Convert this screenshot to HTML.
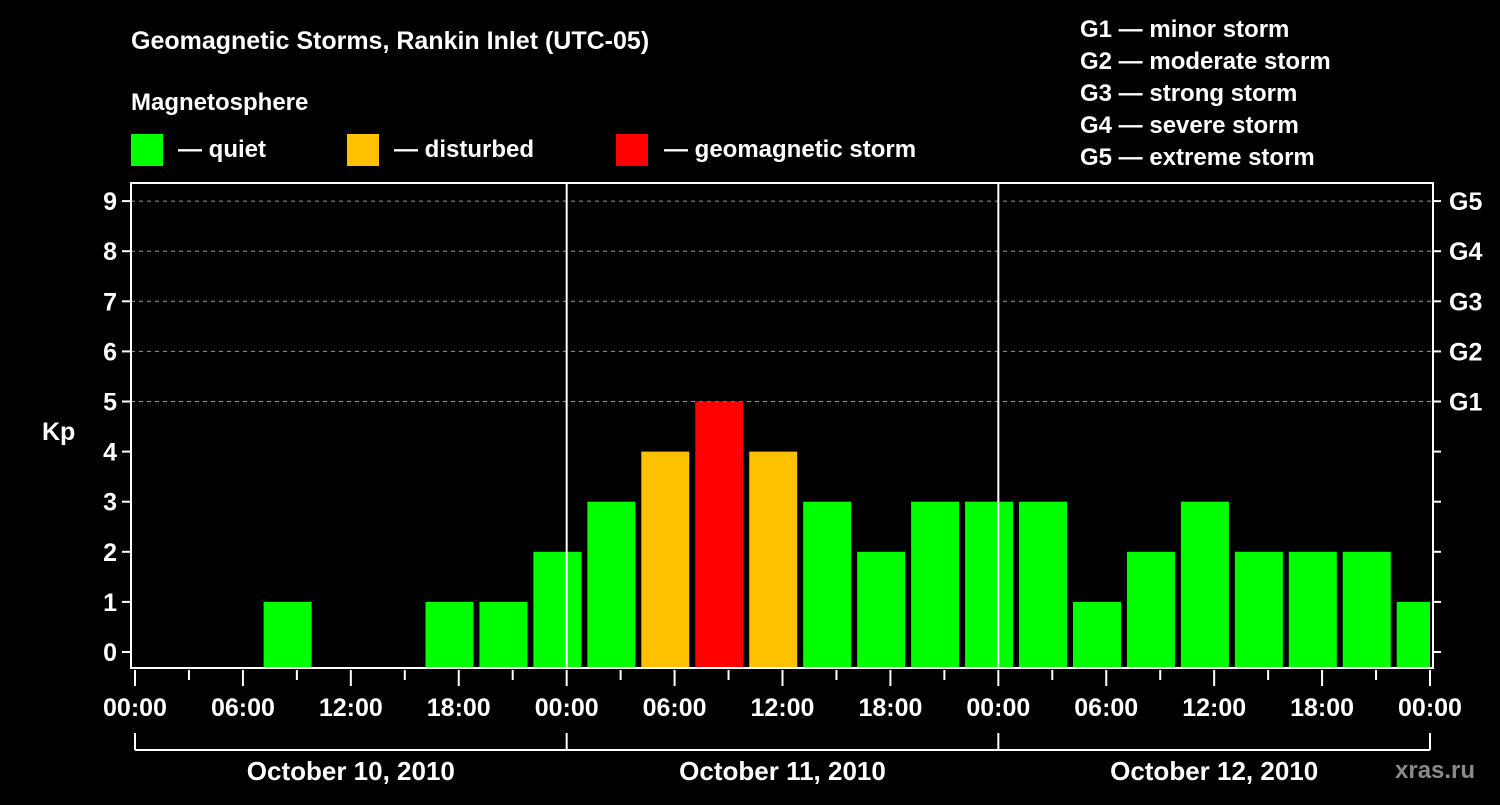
<!DOCTYPE html>
<html><head><meta charset="utf-8"><style>
body{margin:0;background:#000;width:1500px;height:800px;overflow:hidden}
svg text{font-family:"Liberation Sans",sans-serif;font-weight:bold;fill:#fff}
</style></head><body>
<svg id="c" width="1500" height="800">
<text x="131" y="49" font-size="25">Geomagnetic Storms, Rankin Inlet (UTC-05)</text>
<text x="131" y="110" font-size="24">Magnetosphere</text>
<rect x="131" y="134" width="32" height="32" fill="#00ff00"/>
<text x="178" y="157" font-size="24">— quiet</text>
<rect x="347" y="134" width="32" height="32" fill="#ffc000"/>
<text x="394" y="157" font-size="24">— disturbed</text>
<rect x="616" y="134" width="32" height="32" fill="#ff0000"/>
<text x="664" y="157" font-size="24">— geomagnetic storm</text>
<g font-size="24">
<text x="1080" y="37">G1 — minor storm</text>
<text x="1080" y="69">G2 — moderate storm</text>
<text x="1080" y="101">G3 — strong storm</text>
<text x="1080" y="133">G4 — severe storm</text>
<text x="1080" y="165">G5 — extreme storm</text>
</g>
<text x="42" y="440" font-size="25">Kp</text>
<text x="1395" y="778" font-size="24" fill="#888" style="fill:#8a8a8a">xras.ru</text>
<g id="plot"></g>
</svg>
<script>
const kpValues=[0,0,1,0,0,1,1,2,3,4,5,4,3,2,3,3,3,1,2,3,2,2,2,1];
const xTickLabels=["00:00","06:00","12:00","18:00","00:00","06:00","12:00","18:00","00:00","06:00","12:00","18:00","00:00"];
const dateLabels=["October 10, 2010","October 11, 2010","October 12, 2010"];
const gLabels=["G1","G2","G3","G4","G5"];
const NS="http://www.w3.org/2000/svg";
const g=document.getElementById('plot');
const L=131,R=1433,T=183,B=668,X0=135,X1=1430;
const xs=h=>X0+(X1-X0)*h/72;
const ys=v=>652-v*50.1;
function mk(t,a){const e=document.createElementNS(NS,t);for(const k in a)e.setAttribute(k,a[k]);g.appendChild(e);return e;}
// grid
for(let v=5;v<=9;v++){const e=mk('line',{x1:L,x2:R,y1:ys(v),y2:ys(v),stroke:'#999','stroke-dasharray':'4,4','stroke-width':1});

}
// bars
const clip=mk('clipPath',{id:'pc'});const cr=document.createElementNS(NS,'rect');cr.setAttribute('x',L);cr.setAttribute('y',T);cr.setAttribute('width',X1-L);cr.setAttribute('height',B-T);clip.appendChild(cr);
kpValues.forEach((v,i)=>{if(v<=0)return;
const x=xs(i*3+1.15);const col=v>=5?'#ff0000':(v>=4?'#ffc000':'#00ff00');
const e=mk('rect',{x:x,y:ys(v),width:48,height:B-ys(v),fill:col,'clip-path':'url(#pc)'});

});
// day separators
[24,48].forEach(h=>{const e=mk('line',{x1:xs(h),x2:xs(h),y1:T,y2:B,stroke:'#fff','stroke-width':2});

});
// frame
const f=mk('path',{d:`M${L} ${T}H${R}V${B}H${L}Z`,fill:'none',stroke:'#fff','stroke-width':2});


// y ticks
for(let v=0;v<=9;v++){const y=ys(v);
mk('line',{x1:L-9,x2:L,y1:y,y2:y,stroke:'#fff','stroke-width':2});
mk('line',{x1:R,x2:R+8,y1:y,y2:y,stroke:'#fff','stroke-width':2});
const t=mk('text',{x:L-14,y:y+9,'font-size':25,'text-anchor':'end'});t.textContent=v;


if(v>=5){const s=mk('text',{x:R+16,y:y+9,'font-size':25});s.textContent=gLabels[v-5];

}}
// x ticks
for(let h=0;h<=72;h+=3){const x=xs(h);mk('line',{x1:x,x2:x,y1:B+2,y2:h%6==0?B+18:B+12,stroke:'#fff','stroke-width':2});}
xTickLabels.forEach((s,i)=>{const t=mk('text',{x:xs(i*6),y:716,'font-size':25,'text-anchor':'middle'});t.textContent=s;

});
// date bracket
mk('path',{d:`M${xs(0)} 750H${xs(72)}`,stroke:'#fff','stroke-width':2});
for(let d=0;d<=3;d++)mk('line',{x1:xs(d*24),x2:xs(d*24),y1:733,y2:750,stroke:'#fff','stroke-width':2});
dateLabels.forEach((s,i)=>{const t=mk('text',{x:xs(i*24+12),y:780,'font-size':26,'text-anchor':'middle'});t.textContent=s;

});
</script>
</body></html>
